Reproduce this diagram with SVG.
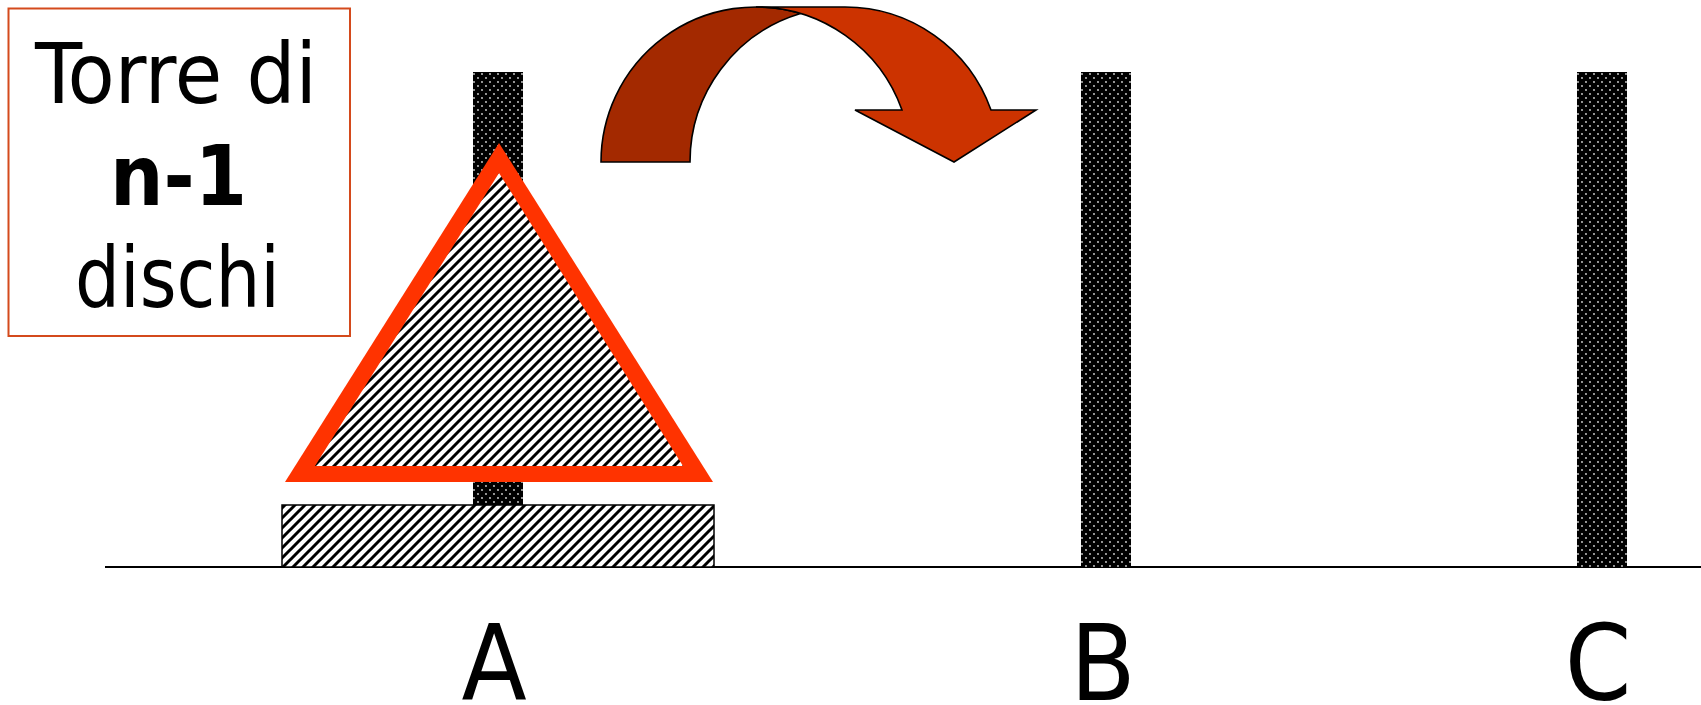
<svg xmlns="http://www.w3.org/2000/svg" width="1701" height="705" viewBox="0 0 1701 705">
  <style>
    .lbl { font-family: "DejaVu Sans Condensed", "DejaVu Sans", sans-serif; fill: #000; }
    .peg { fill: url(#dots); stroke: none; }
    .edge { stroke: #000; stroke-width: 1.6; stroke-linejoin: miter; }
  </style>
  <defs>
    <pattern id="dots" patternUnits="userSpaceOnUse" width="8" height="8">
      <rect width="8" height="8" fill="#000"/>
      <circle cx="2" cy="2" r="0.9" fill="#fff" fill-opacity="0.85"/>
      <circle cx="6" cy="6" r="0.9" fill="#fff" fill-opacity="0.85"/>
    </pattern>
    <pattern id="hatch" patternUnits="userSpaceOnUse" width="10" height="10">
      <rect width="10" height="10" fill="#fff"/>
      <path d="M-2,2 L2,-2 M0,10 L10,0 M8,12 L12,8" stroke="#000" stroke-width="3"/>
    </pattern>
  </defs>
  <rect width="1701" height="705" fill="#fff"/>

  <g id="title-box">
    <rect x="8.5" y="8.5" width="341.5" height="327.5" fill="#fff" stroke="#d44a1c" stroke-width="2"/>
    <text class="lbl" x="176" y="103" font-size="84" text-anchor="middle" textLength="282" lengthAdjust="spacingAndGlyphs">Torre di</text>
    <text class="lbl" x="178.5" y="205" font-size="84" font-weight="bold" text-anchor="middle" textLength="137" lengthAdjust="spacingAndGlyphs">n-1</text>
    <text class="lbl" x="177.5" y="307" font-size="84" text-anchor="middle" textLength="205" lengthAdjust="spacingAndGlyphs">dischi</text>
  </g>

  <g id="ground">
    <line x1="105" y1="567" x2="1701" y2="567" stroke="#000" stroke-width="2"/>
  </g>

  <g id="peg-A">
    <rect class="peg" x="473" y="72" width="50" height="495"/>
  </g>
  <g id="peg-B">
    <rect class="peg" x="1081" y="72" width="50" height="495"/>
  </g>
  <g id="peg-C">
    <rect class="peg" x="1577" y="72" width="50" height="495"/>
  </g>

  <g id="disk-n">
    <rect x="282" y="505" width="432" height="62" fill="url(#hatch)" stroke="#000" stroke-width="1.5"/>
  </g>

  <g id="tower-n-1">
    <polygon points="499,143 713,482 285,482" fill="#ff3300"/>
    <polygon points="499,173 683,466 315,466" fill="url(#hatch)"/>
  </g>

  <g id="connectors">
    <path class="edge" d="M601,162 A155,155 0 0 1 800.5,13.5 A155,155 0 0 0 690,162 Z" fill="#a32900"/>
    <path class="edge" d="M756,7 L845,7 A155,155 0 0 1 991,110 L1036,110 L954,162 L855,110 L902,110 A155,155 0 0 0 756,7 Z" fill="#cc3300"/>
  </g>

  <g id="labels">
    <text class="lbl" x="494" y="700" font-size="106" text-anchor="middle">A</text>
    <text class="lbl" x="1103" y="700" font-size="106" text-anchor="middle">B</text>
    <text class="lbl" x="1598" y="700" font-size="106" text-anchor="middle">C</text>
  </g>
</svg>
